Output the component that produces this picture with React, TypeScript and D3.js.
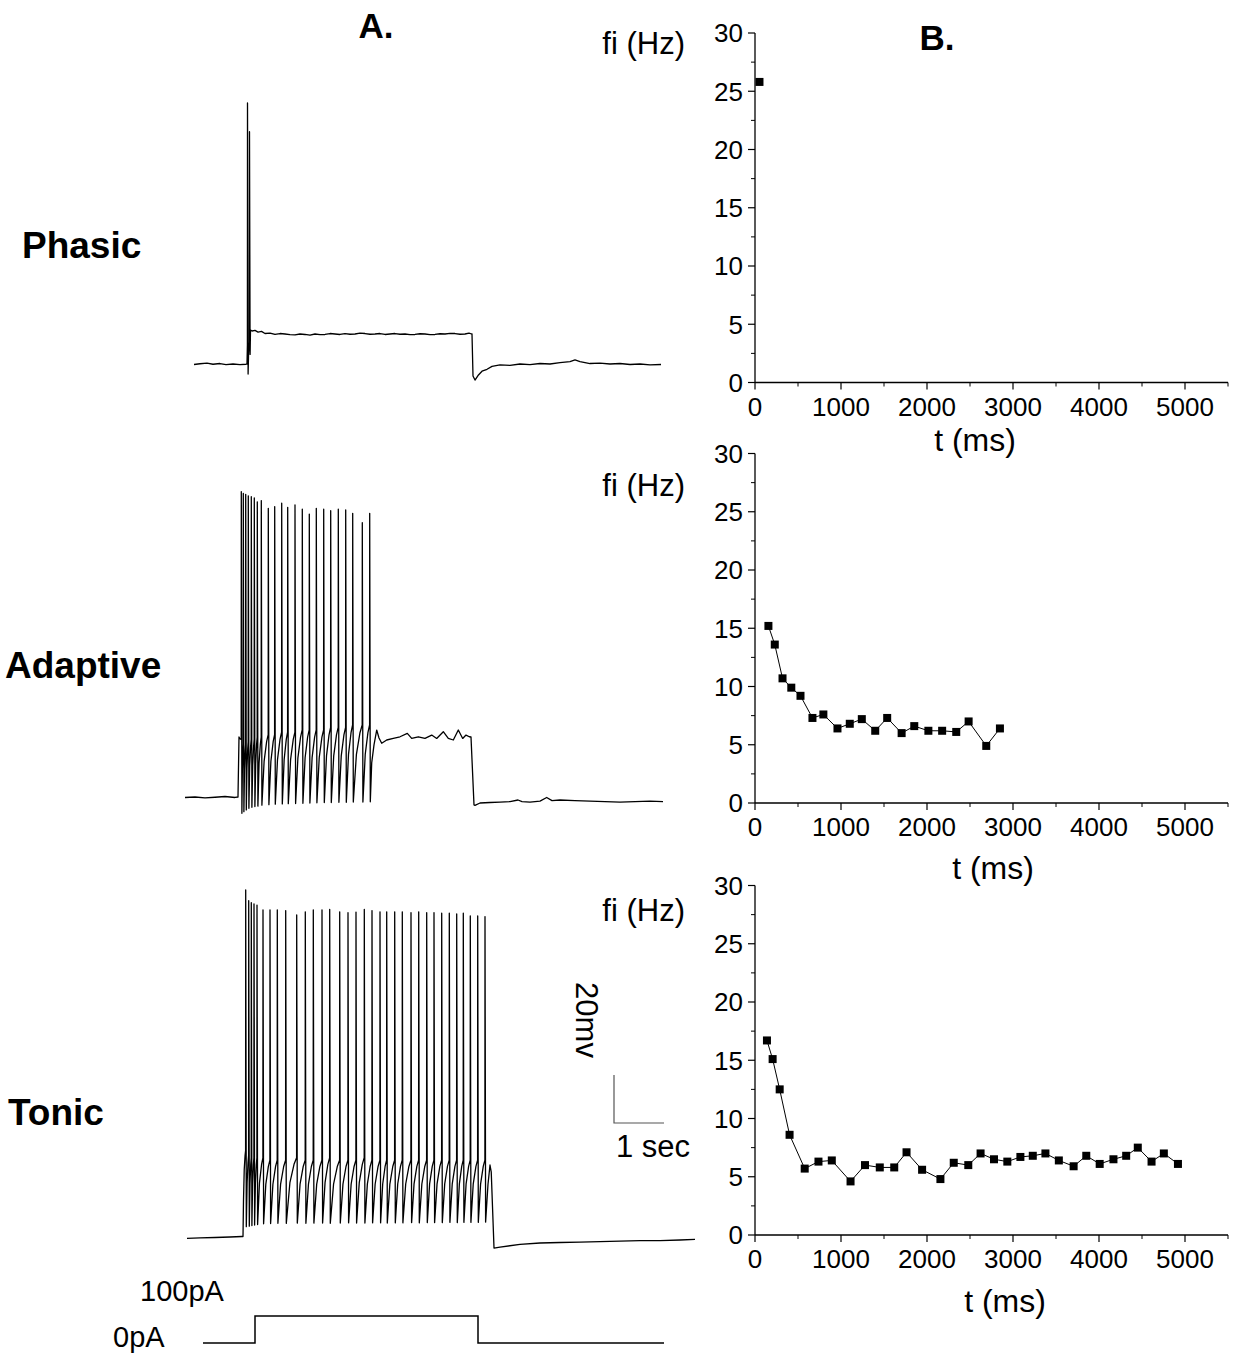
import React from 'react';
import * as d3 from 'd3';

// ---------------- Panel B data (instantaneous frequency) ----------------
const phasicT = [52];
const phasicF = [25.8];
const adaptiveT = [156, 230, 320, 422, 529, 668, 795, 959, 1102, 1242, 1398, 1537, 1705, 1852, 2016, 2176, 2340, 2484, 2689, 2848];
const adaptiveF = [15.2, 13.6, 10.7, 9.9, 9.2, 7.3, 7.6, 6.4, 6.8, 7.2, 6.2, 7.3, 6.0, 6.6, 6.2, 6.2, 6.1, 7.0, 4.9, 6.4];
const tonicT = [139, 205, 287, 402, 578, 738, 893, 1111, 1279, 1451, 1619, 1762, 1943, 2156, 2311, 2480, 2623, 2779, 2934, 3086, 3230, 3377, 3533, 3705, 3852, 4008, 4168, 4316, 4451, 4611, 4754, 4918];
const tonicF = [16.7, 15.1, 12.5, 8.6, 5.7, 6.3, 6.4, 4.6, 6.0, 5.8, 5.8, 7.1, 5.6, 4.8, 6.2, 6.0, 7.0, 6.5, 6.3, 6.7, 6.8, 7.0, 6.4, 5.9, 6.8, 6.1, 6.5, 6.8, 7.5, 6.3, 7.0, 6.1];

const xTicks = [0, 1000, 2000, 3000, 4000, 5000];
const xMinor = [500, 1500, 2500, 3500, 4500, 5500];
const yTicks = [0, 5, 10, 15, 20, 25, 30];
const yMinor = [2.5, 7.5, 12.5, 17.5, 22.5, 27.5];

// ---------------- Panel A data (membrane potential, ms / mV rel. rest) ----------------
type P = [number, number];

// Phasic
const phasicPre: P[] = [[-1060, -0.2], [-940, 0.1], [-800, 0.4], [-680, -0.1], [-540, 0.2], [-420, -0.3], [-280, 0], [-140, -0.3], [-20, -0.1], [0, 0]];
const phasicSpikeT = [10, 50];
const phasicSpikePeak = [108.75, 96.8];
const phasicSpikeTrough = [-4.2, 4];
const phasicSpikeThr = [8, 9];
const phasicPost: P[] = [
  [70, 14.2], [100, 13.75], [160, 14.0], [220, 13.3], [290, 13.6], [360, 12.7], [460, 12.9], [560, 12.3], [660, 12.7], [760, 12.5], [860, 12.2], [960, 12.1],
  [1060, 12.5], [1160, 12.3], [1260, 12.0], [1360, 12.5], [1460, 12.2], [1560, 12.3], [1660, 12.7], [1760, 12.5], [1860, 12.3], [1960, 12.7],
  [2060, 12.4], [2160, 12.5], [2260, 12.9], [2360, 12.7], [2460, 12.4], [2560, 12.5], [2660, 12.7], [2760, 12.3], [2860, 12.5], [2960, 12.7],
  [3060, 12.4], [3160, 12.5], [3260, 12.2], [3360, 12.3], [3460, 12.6], [3560, 12.5], [3660, 12.2], [3760, 12.3], [3860, 12.6], [3960, 12.5],
  [4060, 12.8], [4160, 12.7], [4260, 12.4], [4360, 12.5], [4440, 12.9], [4480, 12.6], [4500, 12.5],
  [4520, -5], [4560, -6.7], [4620, -4.8], [4700, -3], [4800, -2.2], [4900, -1], [5060, -0.4], [5260, -0.6], [5460, 0], [5660, -0.3],
  [5860, 0.2], [6060, 0], [6260, 0.6], [6460, 1.0], [6560, 1.7], [6660, 1.0], [6860, 0.2], [7060, 0.4], [7260, 0], [7460, 0.2],
  [7660, -0.2], [7860, 0], [8060, -0.4], [8280, -0.2],
];

// Adaptive
const adaptivePre: P[] = [[-1060, -0.2], [-860, 0], [-660, -0.4], [-460, -0.1], [-260, 0.2], [-60, -0.2], [0, 0], [20, 25]];
const adaptiveSpikeT = [66, 106, 154, 206, 266, 326, 386, 466, 606, 734, 874, 994, 1140, 1286, 1426, 1566, 1714, 1854, 2006, 2154, 2294, 2486, 2634];
const adaptiveSpikePeak = [127.2, 126.5, 126.1, 125.5, 125.1, 124.6, 123.0, 123.5, 120.3, 121.0, 122.4, 120.7, 121.7, 119.9, 117.9, 120.3, 119.9, 119.3, 119.9, 119.6, 118.2, 114.3, 118.2];
const adaptiveSpikeTrough = [-6.8, -6.1, -5.4, -4.7, -4.3, -4.0, -3.8, -3.4, -3.2, -3.0, -2.9, -2.8, -2.7, -2.6, -2.5, -2.4, -2.3, -2.3, -2.2, -2.2, -2.1, -2.1, -2.0];
const adaptiveSpikeThr = [24, 22, 22, 23, 24, 24, 25, 25, 26, 26, 27, 27, 27, 28, 28, 28, 28, 29, 29, 29, 30, 30, 30];
const adaptivePost: P[] = [
  [2674, 14.2], [2720, 21.7], [2774, 27.9], [2820, 24.6], [2874, 22.4], [2974, 23.75], [3106, 24.4], [3240, 25.1], [3386, 26.5], [3474, 24.4],
  [3606, 25.1], [3740, 24.4], [3874, 25.8], [3974, 24.4], [4106, 27.2], [4206, 24.4], [4306, 23.75], [4406, 27.9], [4494, 24.4], [4560, 25.8],
  [4626, 25.1], [4660, 25],
  [4720, -3.3], [4740, -3.5], [4840, -2.5], [5040, -2.3], [5240, -2.1], [5440, -1.9], [5600, -1.25], [5680, -1.9], [5840, -2.1], [6040, -1.7],
  [6174, -0.2], [6280, -1.5], [6440, -1.25], [6740, -1.5], [7040, -1.7], [7340, -1.9], [7640, -2.1], [7940, -1.9], [8240, -1.7], [8500, -1.9],
];

// Tonic
const tonicPre: P[] = [[-1120, -0.6], [-860, -0.4], [-560, -0.2], [-260, 0], [-20, 0.2], [0, 0.2], [10, 15.4]];
const tonicSpikeT = [54, 114, 166, 220, 280, 400, 540, 686, 854, 1074, 1246, 1406, 1580, 1734, 1934, 2100, 2260, 2426, 2580, 2740, 2874, 3034, 3186, 3360, 3514, 3674, 3820, 3974, 4126, 4274, 4406, 4546, 4694, 4840];
const tonicSpikePeak = [144.6, 140.1, 139.3, 138.8, 138.3, 136.3, 136.3, 136.3, 136.0, 134.2, 135.5, 136.3, 136.3, 136.5, 135.5, 135.1, 135.4, 136.5, 136.0, 135.5, 135.5, 135.5, 135.5, 135.1, 135.5, 135.1, 135.1, 134.9, 134.9, 134.6, 134.9, 133.8, 133.8, 133.5];
const tonicSpikeTrough = [4.3, 4.5, 4.8, 5.0, 5.2, 5.5, 5.6, 5.7, 5.7, 5.8, 5.7, 5.8, 5.8, 5.7, 5.8, 5.9, 5.8, 5.8, 5.9, 5.9, 5.8, 5.9, 5.9, 6.0, 5.9, 6.0, 6.0, 6.0, 6.1, 6.0, 6.1, 6.1, 6.1, 6.2];
const tonicSpikeThr = [36, 34, 33, 33, 33, 33, 32, 32, 32, 33, 32, 32, 32, 33, 32, 32, 32, 33, 32, 32, 32, 32, 32, 32, 32, 32, 32, 32, 32, 32, 32, 32, 32, 32];
const tonicPost: P[] = [
  [4900, 22], [4940, 30], [4965, 27], [5020, -4.6], [5140, -4.2], [5540, -3.1], [5940, -2.5], [6340, -2.3], [6740, -2.1], [7140, -1.9],
  [7540, -1.7], [7940, -1.5], [8340, -1.5], [8740, -1.25], [9040, -1.0],
];

// Current step (pA)
const stimT = [-1040, 0, 0, 4460, 4460, 8180];
const stimPA = [0, 0, 100, 100, 0, 0];

// Scale bar values
const scaleBarMs = 1000;
const scaleBarMv = 20;

// ---------------- helpers ----------------
function spikeTrain(start: P, times: number[], peaks: number[], troughs: number[], thr: number[]): P[] {
  const pts: P[] = [];
  let [pt, pv] = start;
  times.forEach((t, i) => {
    const th = thr[i];
    const span = t - 2 - pt;
    if (span > 25) {
      pts.push([pt + span * 0.35, pv + (th - pv) * 0.62]);
      pts.push([pt + span * 0.75, pv + (th - pv) * 0.9]);
    }
    pts.push([t - 2, th]);
    pts.push([t, peaks[i]]);
    pts.push([t + 12, troughs[i]]);
    pt = t + 12;
    pv = troughs[i];
  });
  return pts;
}

const FONT = '"Liberation Sans", Arial, Helvetica, sans-serif';

const rowsA = [
  {
    x0: 247, y0: 364,
    pts: () => phasicPre.concat(spikeTrain(phasicPre[phasicPre.length - 1], phasicSpikeT, phasicSpikePeak, phasicSpikeTrough, phasicSpikeThr), phasicPost),
  },
  {
    x0: 238, y0: 797,
    pts: () => adaptivePre.concat(spikeTrain(adaptivePre[adaptivePre.length - 1], adaptiveSpikeT, adaptiveSpikePeak, adaptiveSpikeTrough, adaptiveSpikeThr), adaptivePost),
  },
  {
    x0: 243, y0: 1237,
    pts: () => tonicPre.concat(spikeTrain(tonicPre[tonicPre.length - 1], tonicSpikeT, tonicSpikePeak, tonicSpikeTrough, tonicSpikeThr), tonicPost),
  },
];

const panelsB = [
  { top: 33, bottom: 382.5, t: phasicT, f: phasicF, line: false, fiY: 54, tX: 975, tY: 451 },
  { top: 453.5, bottom: 803, t: adaptiveT, f: adaptiveF, line: true, fiY: 496, tX: 993, tY: 879 },
  { top: 885.5, bottom: 1235, t: tonicT, f: tonicF, line: true, fiY: 921, tX: 1005, tY: 1312 },
];

function PanelB({ p }: { p: typeof panelsB[number] }) {
  const x = d3.scaleLinear().domain([0, 5500]).range([755, 1228]);
  const y = d3.scaleLinear().domain([0, 30]).range([p.bottom, p.top]);
  const data = p.t.map((t, i) => [t, p.f[i]] as P);
  const line = d3.line<P>().x(d => x(d[0])).y(d => y(d[1]));
  const x0 = x(0);
  const y0 = y(0);
  return (
    <g>
      <line x1={x0} x2={x0} y1={y(30)} y2={y0} stroke="#000" strokeWidth={1.3} />
      <line x1={x0} x2={x(5500)} y1={y0} y2={y0} stroke="#000" strokeWidth={1.3} />
      {yTicks.map(v => (
        <g key={'y' + v}>
          <line x1={x0 - 7} x2={x0} y1={y(v)} y2={y(v)} stroke="#000" strokeWidth={1.2} />
          <text x={743} y={y(v)} dy="0.36em" textAnchor="end" fontSize={26} fontFamily={FONT}>{v}</text>
        </g>
      ))}
      {yMinor.map(v => (
        <line key={'ym' + v} x1={x0 - 4} x2={x0} y1={y(v)} y2={y(v)} stroke="#000" strokeWidth={1} />
      ))}
      {xTicks.map(v => (
        <g key={'x' + v}>
          <line x1={x(v)} x2={x(v)} y1={y0} y2={y0 + 7} stroke="#000" strokeWidth={1.2} />
          <text x={x(v)} y={y0 + 33} textAnchor="middle" fontSize={26} fontFamily={FONT}>{v}</text>
        </g>
      ))}
      {xMinor.map(v => (
        <line key={'xm' + v} x1={x(v)} x2={x(v)} y1={y0} y2={y0 + 4} stroke="#000" strokeWidth={1} />
      ))}
      {p.line && <path d={line(data) || ''} fill="none" stroke="#000" strokeWidth={1} />}
      {data.map((d, i) => (
        <rect key={i} x={x(d[0]) - 4} y={y(d[1]) - 4} width={8} height={8} fill="#000" />
      ))}
      <text x={685} y={p.fiY} textAnchor="end" fontSize={31} fontFamily={FONT}>fi (Hz)</text>
      <text x={p.tX} y={p.tY} textAnchor="middle" fontSize={32} fontFamily={FONT}>t (ms)</text>
    </g>
  );
}

export default function App() {
  const traces = rowsA.map(r => {
    const xs = d3.scaleLinear().domain([0, 1000]).range([r.x0, r.x0 + 50]);
    const ys = d3.scaleLinear().domain([0, 20]).range([r.y0, r.y0 - 48]);
    const ln = d3.line<P>().x(d => xs(d[0])).y(d => ys(d[1]));
    return ln(r.pts()) || '';
  });

  const sx = d3.scaleLinear().domain([0, 1000]).range([255, 305]);
  const sy = d3.scaleLinear().domain([0, 100]).range([1343, 1316]);
  const stimPts = stimT.map((t, i) => [t, stimPA[i]] as P);
  const stimPath = d3.line<P>().x(d => sx(d[0])).y(d => sy(d[1]))(stimPts) || '';

  // scale bar
  const barX = d3.scaleLinear().domain([0, 1000]).range([614, 664]);
  const barY = d3.scaleLinear().domain([0, 20]).range([1123, 1075]);

  return (
    <svg width={1233} height={1353} style={{ position: 'absolute', left: 0, top: 0, background: '#fff' }}>
      <rect x={0} y={0} width={1233} height={1353} fill="#fff" />
      <text x={376} y={38} textAnchor="middle" fontSize={35} fontWeight="bold" fontFamily={FONT}>A.</text>
      <text x={937} y={50} textAnchor="middle" fontSize={35} fontWeight="bold" fontFamily={FONT}>B.</text>

      <text x={22} y={258} fontSize={37} fontWeight="bold" fontFamily={FONT}>Phasic</text>
      <text x={5} y={678} fontSize={37} fontWeight="bold" fontFamily={FONT}>Adaptive</text>
      <text x={8} y={1125} fontSize={37} fontWeight="bold" fontFamily={FONT}>Tonic</text>

      {traces.map((d, i) => (
        <path key={i} d={d} fill="none" stroke="#000" strokeWidth={1.3} strokeLinejoin="round" />
      ))}

      {/* scale bar */}
      <path d={`M${barX(0)},${barY(scaleBarMv)}L${barX(0)},${barY(0)}L${barX(scaleBarMs)},${barY(0)}`} fill="none" stroke="#555" strokeWidth={1.2} />
      <text transform={`translate(576,1020) rotate(90)`} textAnchor="middle" fontSize={31} fontFamily={FONT}>20mv</text>
      <text x={616} y={1157} fontSize={31} fontFamily={FONT}>1 sec</text>

      {/* current step */}
      <path d={stimPath} fill="none" stroke="#000" strokeWidth={1.5} />
      <text x={140} y={1301} fontSize={29} fontFamily={FONT}>100pA</text>
      <text x={113} y={1347} fontSize={29} fontFamily={FONT}>0pA</text>

      {panelsB.map((p, i) => <PanelB key={i} p={p} />)}
    </svg>
  );
}
